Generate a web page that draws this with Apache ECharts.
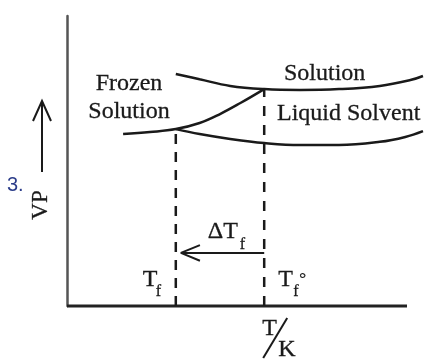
<!DOCTYPE html>
<html>
<head>
<meta charset="utf-8">
<script src="https://cdn.jsdelivr.net/npm/echarts@6/dist/echarts.min.js"></script>
<style>
  html, body { margin: 0; padding: 0; background: #fff; }
  #chart { width: 427px; height: 361px; }
</style>
</head>
<body>
<div id="chart"></div>
<script>
// temperatures (arbitrary units along T/K) and vapour pressures (arbitrary units)
const Tf = 32
const TfPure = 58
const axisEndT = 100
const solutionT = [32, 39, 48, 58, 68.5, 80, 92, 101, 104.7]
const solutionVP = [80.0, 78.2, 75.9, 74.8, 74.5, 74.8, 75.9, 77.9, 79.3]
const solventT = [32, 39, 48, 58, 68.5, 80, 92, 99.5, 104.7]
const solventVP = [61.0, 59.3, 57.6, 56.2, 55.5, 55.5, 56.6, 58.3, 60.3]
const frozenT = [16.5, 24.4, 32, 39, 45, 51, 58]
const frozenVP = [59.3, 60.0, 61.0, 63.1, 66.2, 70.0, 74.8]
// ΔTf arrow: height, tip, and chevron arm ends
const arrowVP = 18.3
const arrowTipT = 33.5
const arrowArmT = 39.1
const arrowArmVP = [21.0, 15.6]

const zip = (xs, ys) => xs.map((x, i) => [x, ys[i]])

const serif = "'Liberation Serif', 'DejaVu Serif', serif"
const ink = '#1a1a1a'

function line(data, extra) {
  return Object.assign({
    type: 'line',
    data: data,
    symbol: 'none',
    silent: true,
    clip: false,
    lineStyle: { color: ink, width: 2.5 }
  }, extra || {})
}

const chartDom = document.getElementById('chart')
const myChart = echarts.init(chartDom, null, { renderer: 'canvas' })

const option = {
  animation: false,
  backgroundColor: '#fff',
  // 100 units of T = 340px; the axis is drawn to 100, the curves run a little past it
  grid: { left: 67, top: 16, width: 357, height: 290 },
  xAxis: {
    type: 'value', min: 0, max: 105,
    axisLine: { show: false },
    axisTick: { show: false }, axisLabel: { show: false }, splitLine: { show: false }
  },
  yAxis: {
    type: 'value', min: 0, max: 100,
    axisLine: { show: true, lineStyle: { color: '#555', width: 2.5 } },
    axisTick: { show: false }, axisLabel: { show: false }, splitLine: { show: false }
  },
  series: [
    line([[0, 0], [axisEndT, 0]], { lineStyle: { color: '#222', width: 3 } }),
    line(zip(solutionT, solutionVP), { smooth: 0.4 }),
    line(zip(solventT, solventVP), { smooth: 0.4 }),
    line(zip(frozenT, frozenVP), { smooth: 0.4 }),
    line([[Tf, 0], [Tf, solventVP[0]]], { lineStyle: { color: ink, width: 2.5, type: [10, 8] } }),
    line([[TfPure, 0], [TfPure, solutionVP[3]]], { lineStyle: { color: ink, width: 2.5, type: [10, 9] } }),
    line([[TfPure, arrowVP], [arrowTipT, arrowVP]], { lineStyle: { color: ink, width: 2 } }),
    line([[arrowArmT, arrowArmVP[0]], [arrowTipT, arrowVP], [arrowArmT, arrowArmVP[1]]], { lineStyle: { color: ink, width: 2 } })
  ]
}
myChart.setOption(option)

// text helper: x, baseline in pixels
function txt(text, x, base, size, align, extra) {
  return Object.assign({
    type: 'text',
    x: x,
    y: base - 0.34 * size,
    silent: true,
    style: {
      text: text,
      fill: ink,
      stroke: ink,
      lineWidth: 0.3,
      font: size + 'px ' + serif,
      align: align || 'left',
      verticalAlign: 'middle'
    }
  }, extra || {})
}

const pTf = myChart.convertToPixel({ gridIndex: 0 }, [Tf, arrowVP])
const pTf0 = myChart.convertToPixel({ gridIndex: 0 }, [TfPure, 0])

myChart.setOption({
  graphic: [
    txt('Frozen', 129, 92, 24, 'center'),
    txt('Solution', 129, 120, 24, 'center'),
    txt('Solution', 284, 82, 24, 'left'),
    txt('Liquid Solvent', 277, 122, 24, 'left'),
    // ΔTf
    txt('\u0394T', pTf[0] + 32, 240, 24, 'left'),
    txt('f', pTf[0] + 64, 250, 16, 'left'),
    // Tf
    txt('T', pTf[0] - 33, 288, 24, 'left'),
    txt('f', pTf[0] - 20, 297, 16, 'left'),
    // Tf°
    txt('T', pTf0[0] + 14, 288, 24, 'left'),
    txt('f', pTf0[0] + 29, 297, 16, 'left'),
    txt('\u00b0', pTf0[0] + 35, 285, 17, 'left'),
    // axis name T/K
    txt('T', pTf0[0] - 2, 337, 24, 'left'),
    { type: 'line', silent: true, shape: { x1: pTf0[0] + 23, y1: 318, x2: pTf0[0] - 1, y2: 358 }, style: { stroke: ink, lineWidth: 2 } },
    txt('K', pTf0[0] + 14, 358, 24, 'left'),
    // y axis name with arrow
    {
      type: 'text', x: 41, y: 205, rotation: Math.PI / 2, silent: true,
      style: { text: 'VP', fill: ink, stroke: ink, lineWidth: 0.3, font: '23px ' + serif, align: 'center', verticalAlign: 'middle' }
    },
    { type: 'line', silent: true, shape: { x1: 42, y1: 172, x2: 42, y2: 101 }, style: { stroke: ink, lineWidth: 2 } },
    { type: 'polyline', silent: true, shape: { points: [[33, 121], [42, 101], [51, 121]] }, style: { stroke: ink, lineWidth: 2, fill: null } },
    // question number
    {
      type: 'text', x: 7, y: 185, silent: true,
      style: { text: '3.', fill: '#2c3d8a', font: '20px "Liberation Sans", Arial, sans-serif', align: 'left', verticalAlign: 'middle' }
    }
  ]
})
</script>
</body>
</html>
